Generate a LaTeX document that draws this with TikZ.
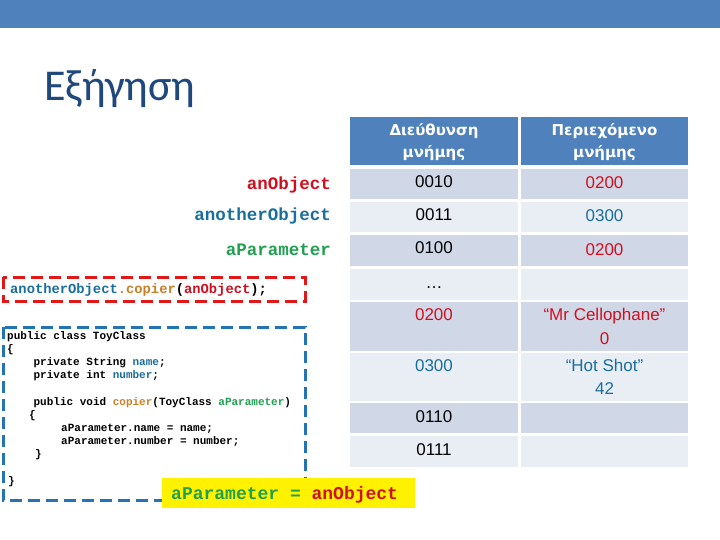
\documentclass[tikz,border=0pt]{standalone}
\usepackage{fontspec}
\setmainfont{Liberation Sans}
\newfontfamily\monof{Liberation Mono}
\newfontfamily\hdrf{DejaVu Sans}
\newfontfamily\ttlf{Carlito}
\definecolor{band}{HTML}{4F81BD}
\definecolor{ttl}{HTML}{1F497D}
\definecolor{rowd}{HTML}{D0D8E8}
\definecolor{rowl}{HTML}{E9EDF4}
\definecolor{cred}{HTML}{D01020}
\definecolor{cblue}{HTML}{1A6E9E}
\definecolor{cgreen}{HTML}{20A050}
\definecolor{corange}{HTML}{C8812A}
\definecolor{dred}{HTML}{E01818}
\definecolor{dblue}{HTML}{2474B4}
\tikzset{
  celltext/.style={anchor=base, inner sep=0pt, font=\fontsize{17}{20}\selectfont},
  hdrtext/.style={anchor=base, inner sep=0pt, text=white, font=\hdrf\bfseries\fontsize{15}{17}\selectfont},
  lbl/.style={anchor=base east, inner sep=0pt, font=\monof\bfseries\fontsize{17.5}{20}\selectfont},
  codeline/.style={anchor=base west, inner sep=0pt, font=\monof\bfseries\fontsize{11}{13}\selectfont},
  dashbox/.style={line width=3pt, dash pattern=on 12pt off 6pt},
}
\begin{document}
\begin{tikzpicture}[x=1pt,y=-1pt]
\useasboundingbox (0,0) rectangle (720,540);
\fill[white] (0,0) rectangle (720,540);
% top band
\fill[band] (0,0) rectangle (720,28);
% title
\node[anchor=base west, inner sep=0pt, text=ttl, font=\ttlf\fontsize{44}{50}\selectfont] (title) at (44,101) {Εξήγηση};
% table cells
\fill[band] (350,117) rectangle (518,165);
\fill[band] (521,117) rectangle (688,165);
\foreach \t/\b/\c in {169/199/rowd,202/232/rowl,235/266/rowd,269/300/rowl,302/351/rowd,353/401/rowl,403/433/rowd,436/467/rowl}{
  \fill[\c] (350,\t) rectangle (518,\b);
  \fill[\c] (521,\t) rectangle (688,\b);
}
% header text
\node[hdrtext] (h1a) at (434,136) {Διεύθυνση};
\node[hdrtext] (h1b) at (434,158) {μνήμης};
\node[hdrtext] (h2a) at (604.5,136) {Περιεχόμενο};
\node[hdrtext] (h2b) at (604.5,158) {μνήμης};
% body text
\node[celltext] (a1) at (434,188) {0010};
\node[celltext,text=cred] (v1) at (604.5,189) {0200};
\node[celltext] (a2) at (434,221) {0011};
\node[celltext,text=cblue] (v2) at (604.5,222) {0300};
\node[celltext] (a3) at (434,254) {0100};
\node[celltext,text=cred] (v3) at (604.5,255) {0200};
\node[celltext] (a4) at (434,288) {…};
\node[celltext,text=cred] (a5) at (434,320) {0200};
\node[celltext,text=cred] (v5a) at (604.5,320) {“Mr Cellophane”};
\node[celltext,text=cred] (v5b) at (604.5,344) {0};
\node[celltext,text=cblue] (a6) at (434,371) {0300};
\node[celltext,text=cblue] (v6a) at (604.5,371) {“Hot Shot”};
\node[celltext,text=cblue] (v6b) at (604.5,394) {42};
\node[celltext] (a7) at (434,422) {0110};
\node[celltext] (a8) at (434,455) {0111};
% left labels
\node[lbl,text=cred] (lanobj) at (331,190) {anObject};
\node[lbl,text=cblue] (lanother) at (331,221) {anotherObject};
\node[lbl,text=cgreen] (lparam) at (331,255) {aParameter};
% red dashed call box
\draw[dashbox,dred] (3,277) rectangle (305,301);
\node[anchor=base west, inner sep=0pt, font=\monof\bfseries\fontsize{13.8}{16}\selectfont] (call) at (10,293.5)
  {\textcolor{cblue}{anotherObject}\textcolor{corange}{.copier}(\textcolor{cred}{anObject});};
% blue dashed class box
\draw[dashbox,dblue] (3,327) rectangle (305,500);
\node[codeline] (c1) at (7,339) {public class ToyClass};
\node[codeline] (c2) at (7,352.5) {\{};
\node[codeline] (c3) at (33.4,365.5) {private String \textcolor{cblue}{name};};
\node[codeline] (c4) at (33.4,378.7) {private int \textcolor{cblue}{number};};
\node[codeline] (c6) at (33.4,405) {public void \textcolor{corange}{copier}(ToyClass \textcolor{cgreen}{aParameter})};
\node[codeline] (c7) at (29,418) {\{};
\node[codeline] (c8) at (61,431.5) {aParameter.name = name;};
\node[codeline] (c9) at (61,444.8) {aParameter.number = number;};
\node[codeline] (c10) at (35,457.5) {\}};
\node[codeline] (c12) at (8,484) {\}};
% yellow assignment box
\fill[yellow] (162,478) rectangle (415,508);
\node[anchor=base west, inner sep=0pt, font=\monof\bfseries\fontsize{18}{20}\selectfont] (assign) at (171,499)
  {\textcolor{cgreen}{aParameter =} \textcolor{cred}{anObject}};
\end{tikzpicture}
\end{document}
